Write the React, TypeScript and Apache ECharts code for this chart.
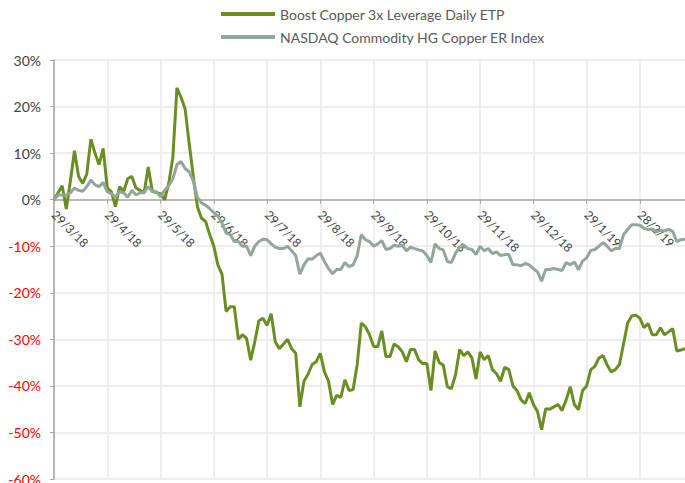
import React, { useEffect, useRef } from 'react';
import * as echarts from 'echarts';

// Month tick labels shown on the x axis
const tickLabels = ['29/3/18', '29/4/18', '29/5/18', '29/6/18', '29/7/18', '29/8/18', '29/9/18', '29/10/18', '29/11/18', '29/12/18', '29/1/19', '28/2/19'];
// Dates of the month ticks (plus end of range)
const tickDates = ['2018-03-29', '2018-04-29', '2018-05-29', '2018-06-29', '2018-07-29', '2018-08-29', '2018-09-29', '2018-10-29', '2018-11-29', '2018-12-29', '2019-01-29', '2019-02-28', '2019-03-28'];
const pointsPerMonth = 13;

// Boost Copper 3x Leverage Daily ETP (% performance)
const etpValues = [
  0, 1.5, 3, -2, 4, 10.5, 5, 3.5, 5.5, 13, 10, 7.5, 11,
  2.5, 1.7, -1.5, 2.8, 1.7, 4.5, 5, 2.5, 2, 1.5, 7, 1.8, 1.5,
  1.3, 0, 3.5, 9, 24, 22, 19.5, 12, 5, -1.5, -4, -4.7, -7.5,
  -10, -14, -16, -24, -23, -23, -30, -29, -29.8, -34.5, -30.5, -26, -25.5,
  -27, -24.5, -30.5, -32, -31, -30, -32, -33, -44.5, -39, -37.5, -35.4, -34.8,
  -33, -37, -39, -44, -42, -42.5, -38.7, -41, -40.8, -35.4, -26.5, -27.3, -29,
  -31.5, -31.6, -28.2, -33.7, -33.7, -31, -31.6, -32.7, -34.8, -32.2, -32.2, -34.4, -35.2,
  -35.2, -41, -32.5, -35, -35.5, -40.2, -40.6, -37.6, -32.2, -33.5, -32.7, -34, -38.5,
  -32.7, -34.4, -33.5, -36.5, -37.4, -39, -36, -36.5, -40, -41, -43, -43.8, -41.5,
  -44, -45.5, -49.4, -44.9, -45, -44.5, -44, -45.3, -43, -40.2, -44, -45.1, -41,
  -40, -36.5, -35.8, -34, -33.5, -35.5, -37, -36.5, -35.4, -31, -26.5, -25, -24.8,
  -25.5, -27.5, -26.6, -29, -29, -27.5, -29, -28.4, -27.7, -32.5, -32.3, -32,
];

// NASDAQ Commodity HG Copper ER Index (% performance)
const indexValues = [
  0, 1, 1, 1, 1.5, 2.5, 2, 1.8, 2.8, 4.2, 3.2, 2.8, 3.7,
  1.7, 1.3, 0.6, 1.7, 1.5, 0.5, 2, 1, 1.5, 1.5, 2.8, 1.7, 1.7,
  0.6, 2, 3, 4.5, 7.5, 8.2, 6.7, 6, 4, 0.5, -0.7, -1.2, -1.9,
  -2.8, -3.5, -5, -7.2, -7.5, -9, -9, -10, -10, -12, -10, -9, -8.5,
  -8.6, -9.5, -10.2, -10.5, -10.5, -10, -11, -12, -16, -14, -12.7, -12.8, -12,
  -11.5, -13.3, -14.8, -15.9, -15, -15, -13.5, -14.4, -14, -12, -7.5, -8.6, -9,
  -10, -9.5, -8.8, -10.7, -10.5, -9.8, -10, -9.8, -11, -10.2, -10.5, -10.8, -11,
  -12, -13.5, -9.5, -10.5, -10.8, -13.3, -13.5, -11.5, -10.2, -9.8, -10.5, -10.7, -11.8,
  -10, -11, -10.5, -11.6, -11.2, -12, -11.8, -11.8, -14, -14, -14.2, -13.7, -14,
  -14.8, -15.5, -17.5, -15, -15, -14.8, -15, -15.2, -13.5, -14, -13.4, -15, -13.2,
  -12.5, -10.9, -10.7, -10, -9.2, -10, -11, -10.5, -10.5, -7.5, -6.4, -5.4, -5.4,
  -5.5, -6.2, -6.4, -6.3, -6.9, -6.6, -6.7, -6.4, -6.8, -9, -8.6, -8.5,
];

const seriesNames = ['Boost Copper 3x Leverage Daily ETP', 'NASDAQ Commodity HG Copper ER Index'];
const yMin = -60;
const yMax = 30;

function buildCategories(count: number): string[] {
  const out: string[] = [];
  for (let i = 0; i < count; i++) {
    const seg = Math.floor(i / pointsPerMonth);
    const k = i % pointsPerMonth;
    if (k === 0 && seg < tickLabels.length) {
      out.push(tickLabels[seg]);
      continue;
    }
    const a = new Date(tickDates[seg] + 'T00:00:00Z').getTime();
    const b = new Date(tickDates[seg + 1] + 'T00:00:00Z').getTime();
    const d = new Date(a + Math.round(((b - a) / 86400000) * (k / pointsPerMonth)) * 86400000);
    out.push(`${d.getUTCDate()}/${d.getUTCMonth() + 1}/${String(d.getUTCFullYear()).slice(2)}`);
  }
  return out;
}

const W = 685;
const H = 483;
const GRID = { left: 54, right: 0, top: 60, bottom: 4 };

export default function App() {
  const ref = useRef<HTMLDivElement>(null);
  useEffect(() => {
    if (!ref.current) return;
    const chart = echarts.init(ref.current, undefined, { renderer: 'svg' });
    const categories = buildCategories(etpValues.length);
    const isTick = (index: number) => index % pointsPerMonth === 0;
    const gridH = H - GRID.top - GRID.bottom;
    // move the category axis (line, ticks, labels) up to the 0% line
    const zeroOffset = -gridH * (0 - yMin) / (yMax - yMin);
    chart.setOption({
      animation: false,
      backgroundColor: '#ffffff',
      textStyle: { fontFamily: 'Lato' },
      legend: {
        orient: 'vertical',
        left: 221,
        top: 7,
        padding: 0,
        itemGap: 9,
        itemWidth: 54,
        itemHeight: 4,
        icon: 'rect',
        textStyle: { color: '#595959', fontSize: 14, fontFamily: 'Lato' },
        data: seriesNames,
      },
      grid: { ...GRID, containLabel: false, outerBoundsMode: 'none' },
      xAxis: {
        type: 'category',
        position: 'bottom',
        offset: zeroOffset,
        boundaryGap: false,
        data: categories,
        axisLine: { onZero: false, lineStyle: { color: '#a6a6a6', width: 1.5 } },
        axisTick: { show: true, length: 4, interval: isTick, lineStyle: { color: '#a6a6a6' } },
        axisLabel: {
          interval: isTick,
          rotate: -45,
          margin: 13,
          color: '#404040',
          fontSize: 12,
          fontFamily: 'Lato',
        },
        splitLine: { show: true, interval: isTick, lineStyle: { color: '#e8e8e8', width: 1.5 } },
      },
      yAxis: {
        type: 'value',
        min: yMin,
        max: yMax,
        interval: 10,
        axisLine: { show: true, lineStyle: { color: '#a6a6a6', width: 1.5 } },
        axisTick: { show: true, length: 4, lineStyle: { color: '#a6a6a6' } },
        axisLabel: {
          formatter: '{value}%',
          margin: 13,
          fontSize: 14,
          fontFamily: 'Lato',
          color: (v: any) => (Number(v) < 0 ? '#ff0000' : '#404040'),
        },
        splitLine: { show: true, lineStyle: { color: '#e8e8e8', width: 1.5 } },
      },
      series: [
        {
          name: seriesNames[0],
          type: 'line',
          data: etpValues,
          symbol: 'none',
          lineStyle: { color: '#6b8e23', width: 3 },
          itemStyle: { color: '#6b8e23' },
        },
        {
          name: seriesNames[1],
          type: 'line',
          data: indexValues,
          symbol: 'none',
          lineStyle: { color: '#94a69b', width: 3 },
          itemStyle: { color: '#94a69b' },
        },
      ],
    });
    return () => chart.dispose();
  }, []);
  return <div ref={ref} style={{ position: 'absolute', left: 0, top: 0, width: W, height: H }} />;
}
